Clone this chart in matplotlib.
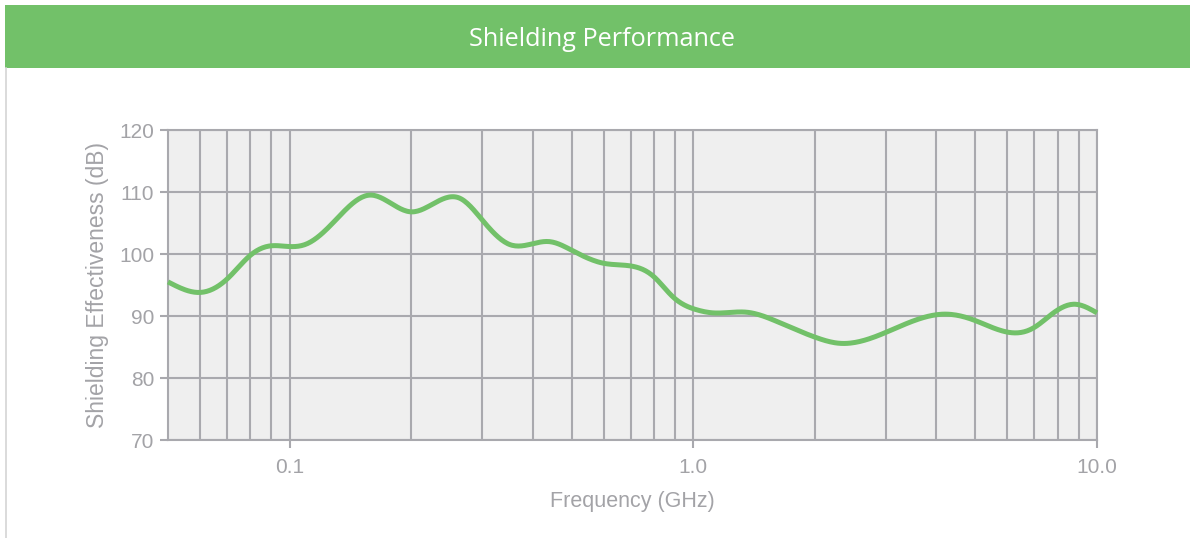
import numpy as np
import matplotlib
matplotlib.use("Agg")
import matplotlib.pyplot as plt
from matplotlib.patches import Rectangle
from matplotlib.lines import Line2D
from matplotlib.ticker import FixedLocator, NullFormatter

# ─── Data ────────────────────────────────────────────────────────────────────
freq_ghz = [0.05, 0.06, 0.0704, 0.08, 0.0894, 0.10, 0.110, 0.128, 0.158, 0.20,
            0.264, 0.30, 0.352, 0.44, 0.50, 0.60, 0.71, 0.80, 0.89, 1.02,
            1.12, 1.36, 1.64, 2.0, 2.3, 2.96, 4.2, 4.93, 6.4, 6.97,
            7.8, 8.8, 10.0]
shielding_db = [95.5, 93.8, 96.1, 99.8, 101.3, 101.2, 101.6, 105.0, 109.5, 106.8,
                109.0, 105.5, 101.5, 102.0, 100.6, 98.5, 98.0, 96.3, 93.1, 91.0,
                90.5, 90.6, 88.9, 86.6, 85.6, 87.2, 90.3, 89.4, 87.3, 88.1,
                90.5, 91.9, 90.5]
y_ticks = [70, 80, 90, 100, 110, 120]
x_major = [0.1, 1.0, 10.0]
x_major_labels = ["0.1", "1.0", "10.0"]

GREEN = "#72C169"
GRID = "#a9a9ae"
TEXT = "#a3a3a7"


def smooth(xs, ys, n=600):
    """Natural cubic spline through the points, in log-x space (drawing only)."""
    x = np.log10(np.asarray(xs, float))
    y = np.asarray(ys, float)
    m = len(x)
    h = np.diff(x)
    A = np.zeros((m, m))
    b = np.zeros(m)
    A[0, 0] = A[-1, -1] = 1.0
    for i in range(1, m - 1):
        A[i, i - 1] = h[i - 1]
        A[i, i] = 2 * (h[i - 1] + h[i])
        A[i, i + 1] = h[i]
        b[i] = 3 * ((y[i + 1] - y[i]) / h[i] - (y[i] - y[i - 1]) / h[i - 1])
    c = np.linalg.solve(A, b)
    xx = np.linspace(x[0], x[-1], n)
    idx = np.clip(np.searchsorted(x, xx) - 1, 0, m - 2)
    dx = xx - x[idx]
    hi = h[idx]
    bb = (y[idx + 1] - y[idx]) / hi - hi * (2 * c[idx] + c[idx + 1]) / 3
    dd = (c[idx + 1] - c[idx]) / (3 * hi)
    yy = y[idx] + bb * dx + c[idx] * dx ** 2 + dd * dx ** 3
    return 10 ** xx, yy


W, H = 1190, 538
fig = plt.figure(figsize=(W / 100, H / 100), dpi=100, facecolor="white")

# ── Header bar and frame line ────────────────────────────────────────────────
fig.patches.append(Rectangle((5 / W, 1 - 68 / H), 1 - 5 / W, 63 / H,
                             transform=fig.transFigure, facecolor=GREEN,
                             edgecolor="none", zorder=0))
fig.lines.append(Line2D([5.5 / W, 5.5 / W], [0, 1 - 68 / H],
                        transform=fig.transFigure, color="#d4d4d4", lw=1.2))
fig.text(602 / W, 1 - 40 / H, "Shielding Performance", color="white",
         fontsize=18.2, family="Open Sans", ha="center", va="center")

# ── Plot area ────────────────────────────────────────────────────────────────
ax = fig.add_axes([168 / W, 1 - 440 / H, (1097 - 168) / W, (440 - 130) / H])
ax.set_facecolor("#efefef")
ax.set_xscale("log")
ax.set_xlim(0.05, 10.0)
ax.set_ylim(70, 120)

minor = [k * 10.0 ** e for e in (-2, -1, 0) for k in range(2, 10)]
minor = [v for v in minor if 0.05 < v < 10]
ax.xaxis.set_major_locator(FixedLocator(x_major))
ax.xaxis.set_minor_locator(FixedLocator(minor))
ax.xaxis.set_minor_formatter(NullFormatter())
ax.set_xticklabels(x_major_labels)
ax.set_yticks(y_ticks)

ax.grid(True, which="both", axis="x", color=GRID, lw=1.5, zorder=1)
ax.grid(True, which="major", axis="y", color=GRID, lw=1.5, zorder=1)
ax.set_axisbelow(True)

for s in ax.spines.values():
    s.set_color(GRID)
    s.set_linewidth(1.5)

ax.tick_params(axis="both", which="major", colors=GRID, length=6, width=1.5,
               labelcolor=TEXT, labelsize=15)
ax.tick_params(axis="x", which="minor", length=0)
ax.tick_params(axis="y", pad=4)
ax.tick_params(axis="x", pad=7)
for lbl in ax.get_xticklabels() + ax.get_yticklabels():
    lbl.set_family("Liberation Sans")

xs, ys = smooth(freq_ghz, shielding_db)
ax.plot(xs, ys, color=GREEN, lw=3.6, solid_capstyle="butt", zorder=3,
        clip_on=False)

ax.set_xlabel("Frequency (GHz)", color=TEXT, fontsize=15.5,
              family="Liberation Sans", labelpad=10)
ax.set_ylabel("Shielding Effectiveness (dB)", color=TEXT, fontsize=16.5,
              family="Liberation Sans", labelpad=7)

fig.savefig("out.png", dpi=100, facecolor="white")
